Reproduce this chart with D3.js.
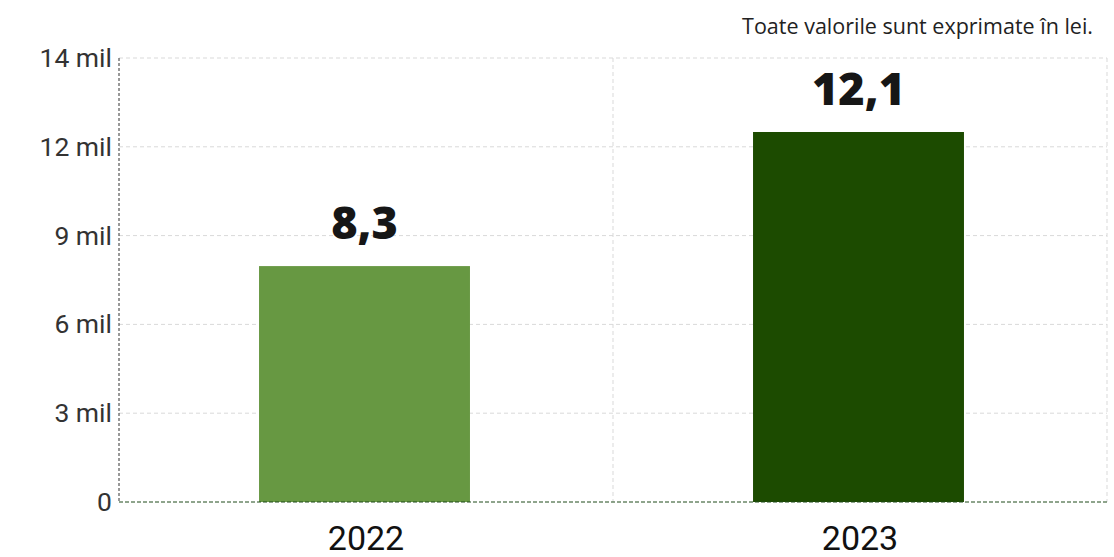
<!DOCTYPE html>
<html>
<head>
<meta charset="utf-8">
<script src="https://cdn.jsdelivr.net/npm/d3@7"></script>
<style>
  body { margin: 0; background: #fff; }
  svg { display: block; }
</style>
</head>
<body>
<div id="chart"></div>
<script>
const years = ['2022', '2023'];
const barValues = [7.97, 12.5];          // bar heights (milioane lei)
const valueLabels = ['8,3', '12,1'];     // labels printed above the bars
const barColors = ['#679842', '#1c4b00'];
const yTickValues = [0, 3, 6, 9, 12, 15];
const yTickLabels = ['0', '3 mil', '6 mil', '9 mil', '12 mil', '14 mil'];
const note = 'Toate valorile sunt exprimate în lei.';

const W = 1114, H = 557;
const margin = { top: 58, right: 7, bottom: 55, left: 119 };
const width = W - margin.left - margin.right;
const height = H - margin.top - margin.bottom;

const svg = d3.select('#chart').append('svg')
    .attr('width', W)
    .attr('height', H);

svg.append('text')
    .attr('x', 1093)
    .attr('y', 34)
    .attr('text-anchor', 'end')
    .attr('font-family', '"Open Sans", sans-serif')
    .attr('font-size', 21.5)
    .attr('fill', '#222')
    .text(note);

const g = svg.append('g')
    .attr('transform', `translate(${margin.left},${margin.top})`);

const x = d3.scaleBand()
    .domain(years)
    .range([0, width])
    .paddingInner(0)
    .paddingOuter(0);

const y = d3.scaleLinear()
    .domain([0, 15])
    .range([height, 0]);

// horizontal grid
g.append('g')
    .selectAll('line')
    .data(yTickValues.slice(1))
    .enter()
    .append('line')
    .attr('x1', 0)
    .attr('x2', width)
    .attr('y1', d => y(d))
    .attr('y2', d => y(d))
    .attr('stroke', '#d9d9d9')
    .attr('stroke-dasharray', '4,3');

// vertical grid at band edges
g.append('g')
    .selectAll('line')
    .data(years)
    .enter()
    .append('line')
    .attr('x1', d => x(d) + x.bandwidth())
    .attr('x2', d => x(d) + x.bandwidth())
    .attr('y1', 0)
    .attr('y2', height)
    .attr('stroke', '#d9d9d9')
    .attr('stroke-dasharray', '4,3');

const barW = x.bandwidth() * 0.427;

g.selectAll('.bar')
    .data(years)
    .enter()
    .append('rect')
    .attr('class', 'bar')
    .attr('x', d => x(d) + x.bandwidth() / 2 - barW / 2 - 1.5)
    .attr('y', (d, i) => y(barValues[i]))
    .attr('width', barW)
    .attr('height', (d, i) => height - y(barValues[i]))
    .attr('fill', (d, i) => barColors[i]);

g.selectAll('.val')
    .data(years)
    .enter()
    .append('text')
    .attr('class', 'val')
    .attr('x', d => x(d) + x.bandwidth() / 2 - 1.5)
    .attr('y', (d, i) => y(barValues[i]) - 27)
    .attr('text-anchor', 'middle')
    .attr('font-family', '"Open Sans", sans-serif')
    .attr('font-weight', 800)
    .attr('font-size', 45)
    .attr('fill', '#161616')
    .text((d, i) => valueLabels[i]);

// y axis
const yAxis = d3.axisLeft(y)
    .tickValues(yTickValues)
    .tickSize(0)
    .tickPadding(7)
    .tickFormat((d, i) => yTickLabels[i]);

const ya = g.append('g').call(yAxis);
ya.select('.domain').remove();
ya.selectAll('text')
    .attr('font-family', 'Roboto, sans-serif')
    .attr('font-size', 26.5)
    .attr('fill', '#333');

g.append('line')
    .attr('x1', 0).attr('x2', 0)
    .attr('y1', 0).attr('y2', height)
    .attr('stroke', '#333')
    .attr('stroke-dasharray', '3,2');

// x axis
const xAxis = d3.axisBottom(x).tickSize(0).tickPadding(24);
const xa = g.append('g')
    .attr('transform', `translate(0,${height})`)
    .call(xAxis);
xa.select('.domain').remove();
xa.selectAll('text')
    .attr('font-family', 'Roboto, sans-serif')
    .attr('font-size', 34)
    .attr('fill', '#111');

g.append('line')
    .attr('x1', 0).attr('x2', width)
    .attr('y1', height).attr('y2', height)
    .attr('stroke', '#1f4a1a')
    .attr('stroke-dasharray', '4,2');
</script>
</body>
</html>
